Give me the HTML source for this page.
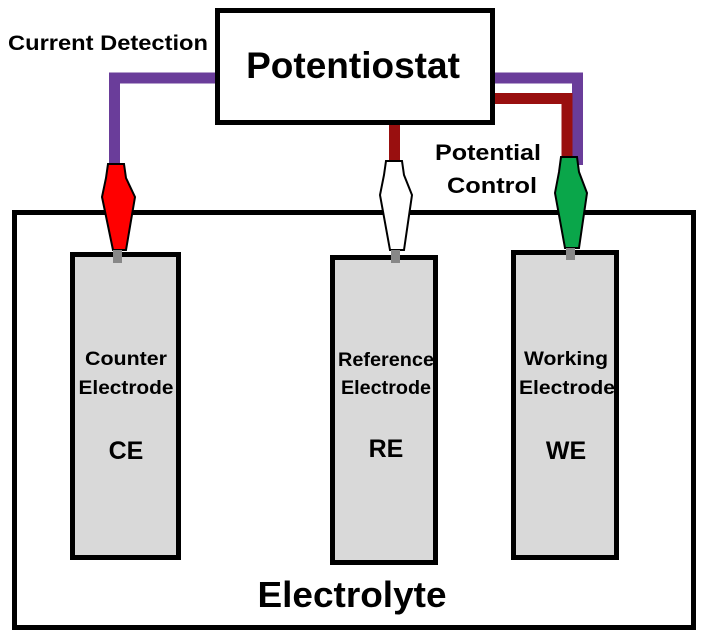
<!DOCTYPE html>
<html><head><style>
body{margin:0;background:#fff;}
svg{display:block;}
text{font-family:"Liberation Sans",Arial,sans-serif;font-weight:bold;fill:#000;}
</style></head><body>
<svg width="705" height="639" viewBox="0 0 705 639" xmlns="http://www.w3.org/2000/svg">
<rect width="705" height="639" fill="#fff"/>
<path d="M215 78 H114.5 V170" fill="none" stroke="#6a3d9a" stroke-width="11"/>
<path d="M495 78 H577.5 V165" fill="none" stroke="#6a3d9a" stroke-width="11"/>
<path d="M495 98.5 H567 V165" fill="none" stroke="#990f0f" stroke-width="11"/>
<path d="M394.5 124 V165" fill="none" stroke="#990f0f" stroke-width="11"/>
<rect x="14.5" y="212.5" width="679" height="415" fill="none" stroke="#000" stroke-width="5"/>
<rect x="72.5" y="254.5" width="106" height="303" fill="#d9d9d9" stroke="#000" stroke-width="5"/>
<rect x="332.5" y="257.5" width="103" height="305" fill="#d9d9d9" stroke="#000" stroke-width="5"/>
<rect x="513.5" y="252.5" width="103" height="305" fill="#d9d9d9" stroke="#000" stroke-width="5"/>
<g stroke="#000" stroke-width="2">
<polygon points="108,164 124,164 126,178 135,197 126,250 113,250 102,197 106,178" fill="#ff0000"/>
<polygon points="386,161 402,161 404,175 412,195 404,250 390,250 380,195 384,175" fill="#ffffff"/>
<polygon points="561,157 577,157 579,172 587,193 579,248 565,248 555,193 559,172" fill="#0aa64a"/>
</g>
<rect x="113" y="250" width="9" height="13" fill="#888"/>
<rect x="391" y="250" width="9" height="13" fill="#888"/>
<rect x="566" y="248" width="9" height="12" fill="#888"/>
<rect x="217.5" y="10.5" width="275" height="112" fill="#fff" stroke="#000" stroke-width="5"/>
<text x="353" y="78" font-size="37" text-anchor="middle">Potentiostat</text>
<text x="108" y="50" font-size="21" text-anchor="middle" textLength="200" lengthAdjust="spacingAndGlyphs">Current Detection</text>
<text x="488" y="160" font-size="22" text-anchor="middle" textLength="106" lengthAdjust="spacingAndGlyphs">Potential</text>
<text x="492" y="193" font-size="22" text-anchor="middle" textLength="90" lengthAdjust="spacingAndGlyphs">Control</text>
<g font-size="19" text-anchor="middle">
<text x="126" y="365" textLength="82" lengthAdjust="spacingAndGlyphs">Counter</text>
<text x="126" y="394" textLength="95" lengthAdjust="spacingAndGlyphs">Electrode</text>
<text x="386" y="366" textLength="96" lengthAdjust="spacingAndGlyphs">Reference</text>
<text x="386" y="394" textLength="90" lengthAdjust="spacingAndGlyphs">Electrode</text>
<text x="566" y="365" textLength="84" lengthAdjust="spacingAndGlyphs">Working</text>
<text x="567" y="394" textLength="96" lengthAdjust="spacingAndGlyphs">Electrode</text>
</g>
<g font-size="25" text-anchor="middle">
<text x="126" y="459">CE</text>
<text x="386" y="457">RE</text>
<text x="566" y="459">WE</text>
</g>
<text x="352" y="607" font-size="36" text-anchor="middle" textLength="189" lengthAdjust="spacingAndGlyphs">Electrolyte</text>
</svg>
</body></html>
